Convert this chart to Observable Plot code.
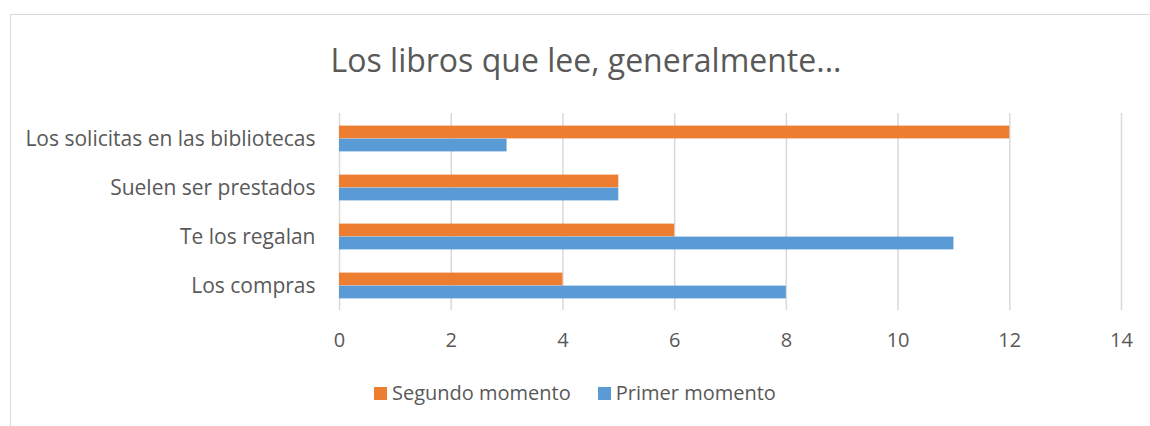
<!DOCTYPE html>
<html><head><meta charset="utf-8">
<script src="https://cdn.jsdelivr.net/npm/d3@7"></script>
<script src="https://cdn.jsdelivr.net/npm/@observablehq/plot@0.6"></script>
<style>
body{margin:0;background:#fff;font-family:"Open Sans",sans-serif;color:#595959}
#wrap{position:relative;width:1150px;height:426px;overflow:hidden;background:#fff}
#border{position:absolute;left:10px;top:14px;width:1200px;height:500px;border:1.5px solid #d9d9d9;box-sizing:border-box}
#title{position:absolute;top:38px;left:0;width:1172px;text-align:center;font-size:32px;line-height:44px;white-space:nowrap}
#chart{position:absolute;top:100px;left:0}
#chart g[aria-label^="y-axis"] text{font-size:21px}
#legend{position:absolute;top:380px;left:374px;display:flex;align-items:center;font-size:20px;line-height:26px;white-space:nowrap}
.item{display:flex;align-items:center;margin-right:27px}
.sw{width:13px;height:13px;margin-right:5px}
</style></head>
<body>
<div id="wrap">
  <div id="border"></div>
  <div id="title">Los libros que lee, generalmente...</div>
  <div id="chart"></div>
  <div id="legend"></div>
</div>
<script>
const categories = ["Los solicitas en las bibliotecas", "Suelen ser prestados", "Te los regalan", "Los compras"];
const segundo = [12, 5, 6, 4];
const primer = [3, 5, 11, 8];
const seriesNames = ["Segundo momento", "Primer momento"];
const seriesColors = ["#ED7D31", "#5B9BD5"];
const xTicks = [0, 2, 4, 6, 8, 10, 12, 14];

const rows = categories.map((c, i) => ({category: c, segundo: segundo[i], primer: primer[i]}));

const plot = Plot.plot({
  width: 1150,
  height: 270,
  marginLeft: 339,
  marginRight: 29,
  marginTop: 13,
  marginBottom: 60,
  style: {fontFamily: "'Open Sans', sans-serif", fontSize: "20px", color: "#595959", background: "transparent", overflow: "visible"},
  x: {domain: [0, 14], ticks: xTicks, tickSize: 0, tickPadding: 22, label: null},
  y: {domain: categories, padding: 0, tickSize: 0, tickPadding: 24, label: null},
  marks: [
    Plot.ruleX(xTicks, {stroke: "#d9d9d9", strokeWidth: 1.5}),
    Plot.barX(rows, {x: "segundo", y: "category", fill: seriesColors[0], insetTop: 11.6, insetBottom: 24.6}),
    Plot.barX(rows, {x: "primer", y: "category", fill: seriesColors[1], insetTop: 24.6, insetBottom: 11.6})
  ]
});
document.getElementById("chart").appendChild(plot);

const legend = document.getElementById("legend");
seriesNames.forEach((n, i) => {
  const it = document.createElement("div");
  it.className = "item";
  const sw = document.createElement("div");
  sw.className = "sw";
  sw.style.background = seriesColors[i];
  const t = document.createElement("span");
  t.textContent = n;
  it.appendChild(sw); it.appendChild(t);
  legend.appendChild(it);
});
</script>
</body></html>
